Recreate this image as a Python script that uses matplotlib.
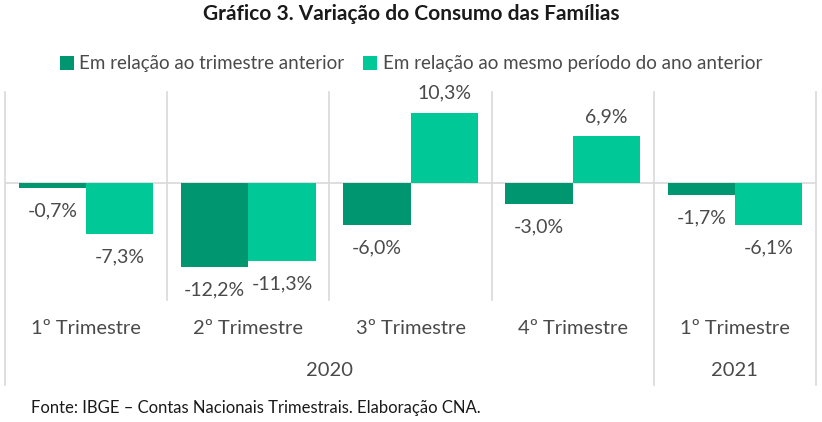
from matplotlib import pyplot as plt
from matplotlib.lines import Line2D
import numpy as np

plt.rcParams['font.family'] = ['Lato', 'DejaVu Sans']

trimestres = ['1º Trimestre', '2º Trimestre', '3º Trimestre', '4º Trimestre', '1º Trimestre']
anos = ['2020', '2021']
anos_n = [4, 1]
trim_anterior = [-0.7, -12.2, -6.0, -3.0, -1.7]
ano_anterior = [-7.3, -11.3, 10.3, 6.9, -6.1]
serie_nomes = ['Em relação ao trimestre anterior', 'Em relação ao mesmo período do ano anterior']

cor_escura = '#009670'
cor_clara = '#00C896'
cor_texto = '#4a4a4a'
cor_grade = '#D9D9D9'

W, H = 822, 422
fig = plt.figure(figsize=(W / 100, H / 100), dpi=100)

# eixo em pixels: esquerda 5, direita 816, topo 92, base 297
ax_l, ax_r, ax_t, ax_b = 5, 816, 92, 297
ax = fig.add_axes([ax_l / W, 1 - ax_b / H, (ax_r - ax_l) / W, (ax_b - ax_t) / H])

x = np.arange(len(trimestres))
w = 0.415
b1 = ax.bar(x - w / 2, trim_anterior, w, color=cor_escura, zorder=3)
b2 = ax.bar(x + w / 2, ano_anterior, w, color=cor_clara, zorder=3)

ax.set_xlim(-0.5, len(trimestres) - 0.5)
ax.set_ylim(-16.5, 13.3)
ax.axhline(0, color=cor_grade, lw=1.2, zorder=2)
for s in ax.spines.values():
    s.set_visible(False)
ax.set_xticks([])
ax.set_yticks([])

def rotular(barras, valores):
    for r, v in zip(barras, valores):
        txt = f'{v:.1f}%'.replace('.', ',')
        off = 14 if v > 0 else -16.5
        ax.annotate(txt, (r.get_x() + r.get_width() / 2, v), xytext=(0, off),
                    textcoords='offset points', ha='center', va='center',
                    fontsize=14, color=cor_texto)

rotular(b1, trim_anterior)
rotular(b2, ano_anterior)

# separadores de categoria e rotulos do eixo
cat_w = (ax_r - ax_l) / len(trimestres)
limites_ano = np.cumsum([0] + anos_n)
for i in range(len(trimestres) + 1):
    px = ax_l + i * cat_w
    y_fim = 385 if i in limites_ano else 300
    fig.add_artist(Line2D([px / W, px / W], [1 - ax_t / H, 1 - y_fim / H],
                          color=cor_grade, lw=1.2))
for i, t in enumerate(trimestres):
    px = ax_l + (i + 0.5) * cat_w
    fig.text(px / W, 1 - 328 / H, t, ha='center', va='center', fontsize=14.5, color=cor_texto)
for a, ini, fim in zip(anos, limites_ano[:-1], limites_ano[1:]):
    px = ax_l + (ini + fim) / 2 * cat_w
    fig.text(px / W, 1 - 370 / H, a, ha='center', va='center', fontsize=14.5, color=cor_texto)

fig.text(0.5, 1 - 14 / H, 'Gráfico 3. Variação do Consumo das Famílias', ha='center', va='center',
         fontsize=15, fontweight='bold', color='#1a1a1a')
fig.legend([b1, b2], serie_nomes, loc='center', bbox_to_anchor=(0.5, 1 - 64 / H), ncol=2,
           frameon=False, fontsize=13.5, handlelength=0.75, handleheight=0.75, handletextpad=0.3,
           columnspacing=1.0, labelcolor=cor_texto)
fig.text(31 / W, 1 - 408 / H, 'Fonte: IBGE – Contas Nacionais Trimestrais. Elaboração CNA.',
         ha='left', va='center', fontsize=12, color='#1a1a1a')

fig.savefig('out.png', dpi=100)
